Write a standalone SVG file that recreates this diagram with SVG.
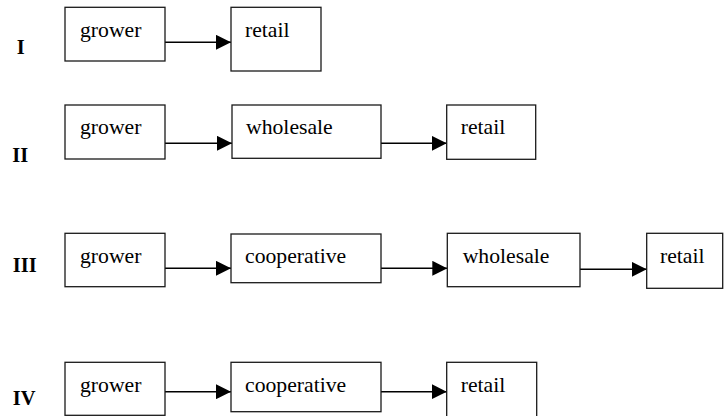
<svg xmlns="http://www.w3.org/2000/svg" width="724" height="416" viewBox="0 0 724 416">
<style>
  .box { fill: #fff; stroke: #1a1a1a; stroke-width: 1.3; }
  .t { font-family: "Liberation Serif", "Times New Roman", serif; font-size: 21.7px; fill: #000; }
  .lbl { font-family: "Liberation Serif", "Times New Roman", serif; font-size: 20.5px; font-weight: bold; fill: #000; }
  .conn { stroke: #000; stroke-width: 1.6; fill: none; marker-end: url(#ah); }
</style>
<defs>
  <marker id="ah" markerUnits="userSpaceOnUse" markerWidth="15" markerHeight="15" refX="15" refY="7.5" orient="auto">
    <path d="M0,0 L15,7.5 L0,15 Z" fill="#000"/>
  </marker>
</defs>
<rect width="724" height="416" fill="#fff"/>
<g id="labels">
  <text class="lbl" x="16.7" y="54">I</text>
  <text class="lbl" x="12.3" y="161.7">II</text>
  <text class="lbl" x="12.7" y="271.7">III</text>
  <text class="lbl" x="12.7" y="405">IV</text>
</g>
<g id="connectors">
  <line class="conn" x1="165" y1="42.3" x2="231" y2="42.3"/>
  <line class="conn" x1="165" y1="143.3" x2="232" y2="143.3"/>
  <line class="conn" x1="381" y1="143.3" x2="446.7" y2="143.3"/>
  <line class="conn" x1="165" y1="268.3" x2="231" y2="268.3"/>
  <line class="conn" x1="381" y1="268.3" x2="447.3" y2="268.3"/>
  <line class="conn" x1="580" y1="269.3" x2="646.7" y2="269.3"/>
  <line class="conn" x1="165" y1="391.7" x2="231" y2="391.7"/>
  <line class="conn" x1="381" y1="391.7" x2="446.7" y2="391.7"/>
</g>
<g id="n1-grower"><rect class="box" x="65" y="7.3" width="100" height="53.7"/><text class="t" x="80" y="37">grower</text></g>
<g id="n1-retail"><rect class="box" x="231" y="7.3" width="90" height="63.7"/><text class="t" x="245" y="37">retail</text></g>
<g id="n2-grower"><rect class="box" x="65" y="105" width="100" height="54"/><text class="t" x="80" y="134">grower</text></g>
<g id="n2-wholesale"><rect class="box" x="232" y="105" width="149" height="53.3"/><text class="t" x="246" y="134">wholesale</text></g>
<g id="n2-retail"><rect class="box" x="446.7" y="105" width="89" height="54.3"/><text class="t" x="460.7" y="134">retail</text></g>
<g id="n3-grower"><rect class="box" x="65" y="233.3" width="100" height="53.4"/><text class="t" x="80" y="263">grower</text></g>
<g id="n3-cooperative"><rect class="box" x="231" y="234" width="150" height="48.7"/><text class="t" x="245" y="263">cooperative</text></g>
<g id="n3-wholesale"><rect class="box" x="447.3" y="233.3" width="132.7" height="53.4"/><text class="t" x="462.7" y="263">wholesale</text></g>
<g id="n3-retail"><rect class="box" x="646.7" y="233.3" width="76" height="55"/><text class="t" x="660" y="263">retail</text></g>
<g id="n4-grower"><rect class="box" x="65" y="362.3" width="100" height="53"/><text class="t" x="80" y="392">grower</text></g>
<g id="n4-cooperative"><rect class="box" x="231" y="362.3" width="150" height="49.4"/><text class="t" x="245" y="392">cooperative</text></g>
<g id="n4-retail"><rect class="box" x="446.7" y="362.3" width="90" height="60"/><text class="t" x="460.7" y="392">retail</text></g>
</svg>
